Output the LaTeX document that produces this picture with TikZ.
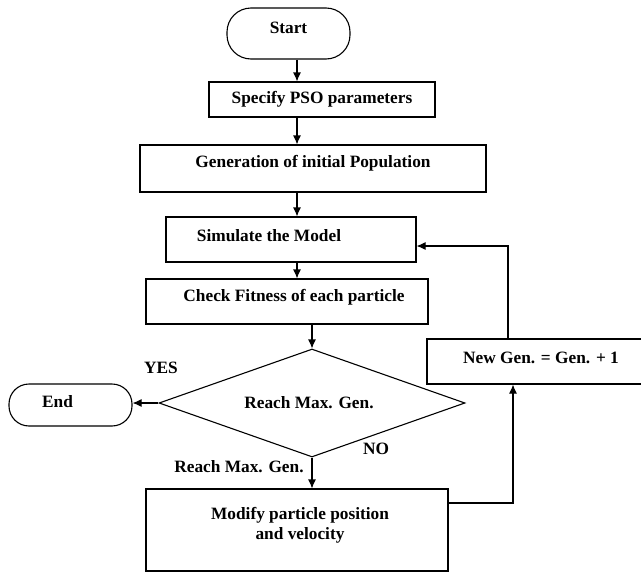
\documentclass[tikz,border=0pt]{standalone}
\usepackage{fontspec}
\setmainfont{Liberation Serif}
\usetikzlibrary{arrows.meta,shapes.geometric}

\begin{document}
\begin{tikzpicture}[x=1pt,y=-1pt,line width=1.1pt,>={Latex[length=9pt,width=8pt]},
    font=\fontsize{17.3}{20}\selectfont\bfseries,
    blk/.style={draw,rectangle,inner sep=0pt},
    term/.style={draw,rectangle,rounded corners=24pt,inner sep=0pt}]
            \useasboundingbox (0,0) rectangle (641,573);

            \node[term,minimum width=123pt,minimum height=51pt,label={[yshift=6pt]center:Start}] (start) at (288.5,33.5) {};
            \node[blk,minimum width=226pt,minimum height=35pt] (spec) at (322,99.5) {Specify PSO parameters};
            \node[blk,minimum width=346pt,minimum height=47pt,label={[yshift=5pt]center:Generation of initial Population}] (gen) at (313,168.5) {};
            \node[blk,minimum width=250pt,minimum height=45pt,label={[xshift=-22pt,yshift=4pt]center:Simulate the Model}] (sim) at (291,239.5) {};
            \node[blk,minimum width=282pt,minimum height=45pt,label={[xshift=7pt,yshift=4pt]center:Check Fitness of each particle}] (check) at (287,301.5) {};
            \node[diamond,draw,inner sep=0pt,minimum width=306pt,minimum height=108pt,label={[xshift=-3pt]center:Reach Max. Gen.}] (dec) at (312,403) {};
            \node[term,rounded corners=20pt,minimum width=123pt,minimum height=42pt,label={[xshift=-13pt,yshift=3pt]center:End}] (stop) at (70.5,405) {};
            \node[blk,minimum width=223pt,minimum height=45pt,label={[xshift=2.5pt,yshift=3.5pt]center:New Gen. = Gen. + 1}] (newgen) at (538.5,361.5) {};
            \node[blk,minimum width=302pt,minimum height=82pt,label={[xshift=3pt,yshift=5pt,align=center]center:{Modify particle position\\and velocity}}] (modify) at (297,530) {};

            \node (yes) at (161,368) {YES};
            \node (no) at (376,449) {NO};
            \node (reach) at (239,467) {Reach Max. Gen.};

            \coordinate (ax) at (297,0);
            \draw[->] (start.south -| ax) -- (spec.north -| ax);
            \draw[->] (spec.south -| ax) -- (gen.north -| ax);
            \draw[->] (gen.south -| ax) -- (sim.north -| ax);
            \draw[->] (sim.south -| ax) -- (check.north -| ax);
            \draw[->] (check.south -| dec.north) -- (dec.north);
            \draw[->] (dec.west) -- (stop.east |- dec.west);
            \draw[->] (dec.south) -- (modify.north -| dec.south);

            \coordinate (r1) at (513,503);
            \draw[->] (modify.east |- r1) -- (r1) -- (newgen.south -| r1);
            \coordinate (r2) at (508,246);
            \draw[->] (newgen.north -| r2) -- (r2) -- (sim.east |- r2);
        \end{tikzpicture}
\end{document}
